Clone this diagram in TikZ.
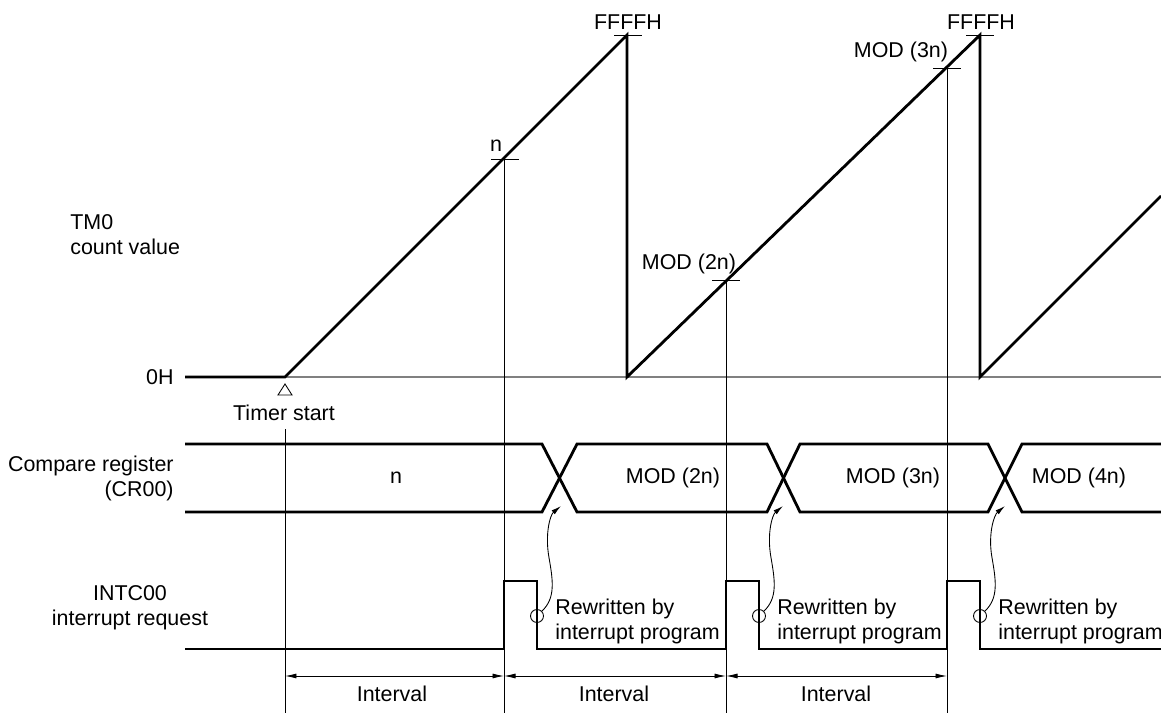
\documentclass[tikz,border=0pt]{standalone}
\usepackage{fontspec}
\setmainfont{Liberation Sans}
\usepackage{tikz}
\usetikzlibrary{positioning, calc, arrows.meta}
\usepackage{color}
\definecolor{axisgray}{RGB}{128, 128, 128}

\begin{document}
\begin{tikzpicture}[x=0.02cm, y=-0.02cm, every node/.style={font=\fontsize{12.2}{14.2}\selectfont, inner sep=0pt}]
    \tikzstyle{signal} = [line width=1.6pt, line join=miter]
    \tikzstyle{guide} = [line width=0.5pt]
    \tikzstyle{axis} = [line width=0.9pt, draw=axisgray]
    \tikzstyle{dim} = [line width=0.5pt, {Latex[length=2.3mm, width=1mm]}-{Latex[length=2.3mm, width=1mm]}]
    \tikzstyle{wavy} = [line width=0.5pt, -{Latex[length=2mm, width=1mm]}]
    \tikzstyle{ringmark} = [draw, circle, line width=0.5pt, minimum size=0.26cm]

    \useasboundingbox (0,0) rectangle (1161,713);

    % Row labels
    \node (lbltm) [align=left, anchor=west] at (70,235) {TM0\\count value};
    \node (lblzero) [anchor=east] at (174,377) {0H};
    \node (lblcr) [align=right, anchor=east] at (174,478) {Compare register\\(CR00)};
    \node (lblint) [align=center] at (130,608) {INTC00\\interrupt request};

    % TM0 count value
    \draw [axis] (285,377) -- (1161,377);
    \draw [signal] (185,377) -- (285,377) -- (627,35) -- (627,377) -- (980,35) -- (980,377) -- (1161,196);

    \draw [guide] (491,159) -- (519,159);
    \draw [guide] (614,35) -- (642,35);
    \draw [guide] (712,280) -- (740,280);
    \draw [guide] (933,68) -- (961,68);
    \draw [guide] (966,35) -- (994,35);

    \node (valn) at (496,146) {n};
    \node (valtop1) at (628,22) {FFFFH};
    \node (valmod2) at (689,264) {MOD (2n)};
    \node (valmod3) at (901,52) {MOD (3n)};
    \node (valtop2) at (981,22) {FFFFH};

    % Timer start
    \draw [guide] (285,384) -- (278,395) -- (292,395) -- cycle;
    \node (tstart) at (284,413) {Timer start};

    % Time lines
    \draw [guide] (285,429) -- (285,713);
    \draw [guide] (504,159) -- (504,713);
    \draw [guide] (726,280) -- (726,713);
    \draw [guide] (947,68) -- (947,713);

    % Compare register
    \draw [signal] (185,444) -- (542,444) -- (577,512) -- (767,512) -- (800,444) -- (988,444) -- (1022,512) -- (1161,512);
    \draw [signal] (185,512) -- (542,512) -- (577,444) -- (767,444) -- (800,512) -- (988,512) -- (1022,444) -- (1161,444);
    \node (crn) at (396,478) {n};
    \node (crmod2) at (673,478) {MOD (2n)};
    \node (crmod3) at (893,478) {MOD (3n)};
    \node (crmod4) at (1079,478) {MOD (4n)};

    % INTC00
    \draw [signal] (185,649) -- (504,649) -- (504,581) -- (537,581) -- (537,649) -- (726,649) -- (726,581) -- (759,581) -- (759,649) -- (947,649) -- (947,581) -- (980,581) -- (980,649) -- (1161,649);

    \node (c1) [ringmark] at (537,616) {};
    \node (c2) [ringmark] at (759,616) {};
    \node (c3) [ringmark] at (980,616) {};
    \node (rw1) [align=left, anchor=west] at (555,621) {Rewritten by\\interrupt program};
    \node (rw2) [align=left, anchor=west] at (777,621) {Rewritten by\\interrupt program};
    \node (rw3) [align=left, anchor=west] at (998,621) {Rewritten by\\interrupt program};

    \coordinate (x1) at (561,506);
    \coordinate (x2) at (783,506);
    \coordinate (x3) at (1005,506);
    \draw [wavy] (c1.north east) .. controls +(14,-13) and +(4,23) .. +(7,-54) .. controls +(-4,-23) and +(-11,9) .. (x1);
    \draw [wavy] (c2.north east) .. controls +(14,-13) and +(4,23) .. +(7,-54) .. controls +(-4,-23) and +(-11,9) .. (x2);
    \draw [wavy] (c3.north east) .. controls +(14,-13) and +(4,23) .. +(7,-54) .. controls +(-4,-23) and +(-11,9) .. (x3);

    % Intervals
    \coordinate (d0) at (285,676);
    \coordinate (d1) at (504,676);
    \coordinate (d2) at (726,676);
    \coordinate (d3) at (947,676);
    \draw [dim] (d0) -- (d1);
    \draw [dim] (d1) -- (d2);
    \draw [dim] (d2) -- (d3);
    \node (iv1) at (392,694) {Interval};
    \node (iv2) at (614,694) {Interval};
    \node (iv3) at (836,694) {Interval};
\end{tikzpicture}
\end{document}
